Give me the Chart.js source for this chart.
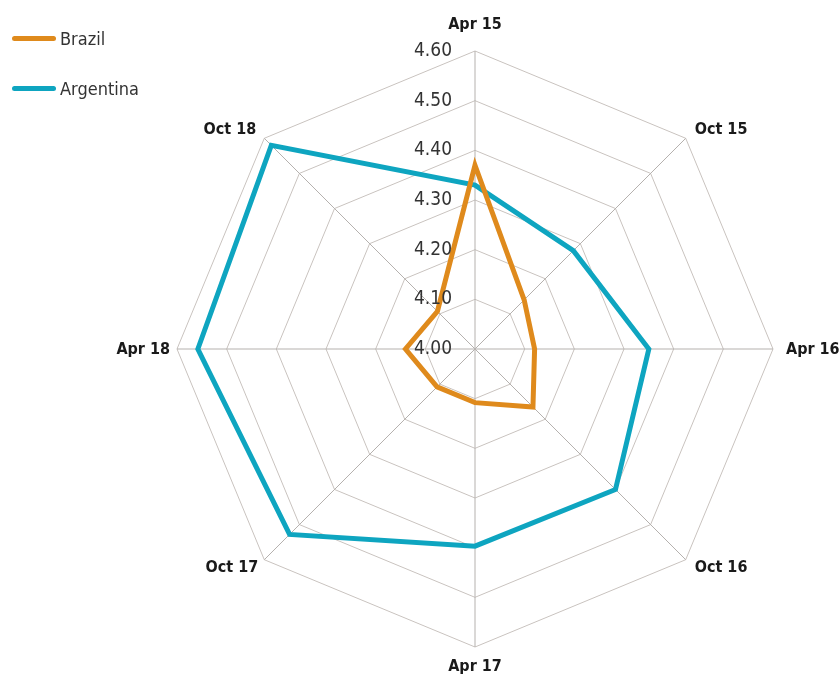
<!DOCTYPE html>
<html>
<head>
<meta charset="utf-8">
<script src="https://cdn.jsdelivr.net/npm/chart.js@4"></script>
<style>
  body { margin: 0; background: #fff; }
  #wrap { position: relative; width: 840px; height: 682px; }
  #legend { position: absolute; left: 12px; top: 26px; font-family: 'Liberation Sans Narrow', 'DejaVu Sans Condensed', sans-serif; font-size: 18px; color: #333; }
  .item { display: flex; align-items: center; height: 24px; margin-bottom: 26px; }
  .swatch { width: 44px; height: 5px; border-radius: 3px; margin-right: 4px; }
</style>
</head>
<body>
<div id="wrap">
  <canvas id="radarChart" width="840" height="682"></canvas>
  <div id="legend"></div>
</div>
<script>
const categories = ['Apr 15', 'Oct 15', 'Apr 16', 'Oct 16', 'Apr 17', 'Oct 17', 'Apr 18', 'Oct 18'];
const brazil = [4.37, 4.14, 4.12, 4.165, 4.108, 4.108, 4.14, 4.107];
const argentina = [4.33, 4.28, 4.35, 4.40, 4.397, 4.528, 4.558, 4.58];
const tickValues = [4.00, 4.10, 4.20, 4.30, 4.40, 4.50, 4.60];

const FONT = "'Liberation Sans Narrow', 'DejaVu Sans Condensed', sans-serif";

// offsets for point labels relative to the outer ring vertex
const labelPlace = [
    { dx: 0, dy: -18, align: 'center', base: 'bottom' },
    { dx: 9, dy: -8, align: 'left', base: 'middle' },
    { dx: 13, dy: 1, align: 'left', base: 'middle' },
    { dx: 9, dy: 8, align: 'left', base: 'middle' },
    { dx: 0, dy: 12, align: 'center', base: 'top' },
    { dx: -6, dy: 8, align: 'right', base: 'middle' },
    { dx: -7, dy: 1, align: 'right', base: 'middle' },
    { dx: -8, dy: -8, align: 'right', base: 'middle' }
];

const labelPlugin = {
    id: 'customLabels',
    afterDatasetsDraw(chart) {
        const scale = chart.scales.r;
        const ctx = chart.ctx;
        ctx.save();
        // tick labels, left of the vertical axis
        ctx.font = '19px ' + FONT;
        ctx.fillStyle = '#333';
        ctx.textAlign = 'right';
        ctx.textBaseline = 'middle';
        tickValues.forEach(v => {
            const d = scale.getDistanceFromCenterForValue(v);
            ctx.fillText(v.toFixed(2), scale.xCenter - 23, scale.yCenter - d);
        });
        // point labels
        ctx.font = 'bold 16px ' + FONT;
        ctx.fillStyle = '#1a1a1a';
        categories.forEach((c, i) => {
            const p = scale.getPointPosition(i, scale.drawingArea);
            const o = labelPlace[i];
            ctx.textAlign = o.align;
            ctx.textBaseline = o.base;
            ctx.fillText(c, p.x + o.dx, p.y + o.dy);
        });
        ctx.restore();
    }
};

const ctx = document.getElementById('radarChart').getContext('2d');
const chart = new Chart(ctx, {
    type: 'radar',
    data: {
        labels: categories,
        datasets: [
            {
                label: 'Brazil',
                data: brazil,
                borderColor: '#df8a1c',
                borderWidth: 5,
                fill: false,
                pointRadius: 0,
                borderJoinStyle: 'miter'
            },
            {
                label: 'Argentina',
                data: argentina,
                borderColor: '#0ea5c0',
                borderWidth: 5,
                fill: false,
                pointRadius: 0,
                borderJoinStyle: 'miter'
            }
        ]
    },
    options: {
        responsive: false,
        animation: false,
        layout: { padding: { left: 176, right: 66, top: 51, bottom: 34 } },
        scales: {
            r: {
                min: 4.0,
                max: 4.6,
                ticks: { stepSize: 0.1, display: false },
                pointLabels: { display: false },
                grid: { color: '#c9c3bf', lineWidth: 1 },
                angleLines: { color: '#b5b1ae', lineWidth: 1 }
            }
        },
        plugins: {
            legend: { display: false },
            tooltip: { enabled: false }
        }
    },
    plugins: [labelPlugin]
});

// HTML legend built from the datasets
const legendEl = document.getElementById('legend');
chart.data.datasets.forEach(ds => {
    const item = document.createElement('div');
    item.className = 'item';
    item.innerHTML = `<span class="swatch" style="background:${ds.borderColor}"></span><span>${ds.label}</span>`;
    legendEl.appendChild(item);
});
</script>
</body>
</html>
